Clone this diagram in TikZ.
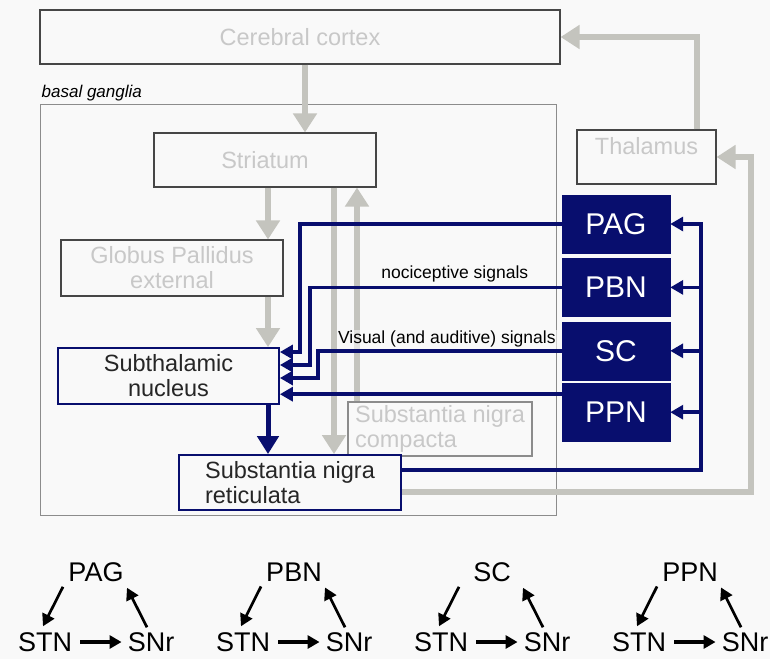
\documentclass[tikz,border=0pt]{standalone}
\usepackage{fontspec}
\setmainfont{Liberation Sans}
\usetikzlibrary{arrows.meta,positioning}

\definecolor{navy}{RGB}{8,14,110}
\definecolor{arrowgray}{RGB}{196,196,190}
\definecolor{textgray}{RGB}{200,200,200}
\definecolor{boxline}{RGB}{70,70,70}
\definecolor{paper}{RGB}{249,249,249}

\tikzset{
	area/.style={draw=boxline, line width=1.1pt, fill=paper, inner sep=0pt, font=\fontsize{23.5}{25}\selectfont},
	greybox/.style={area, text=textgray},
	bluebox/.style={area, draw=navy, line width=1.8pt, text=black!85},
	nucleus/.style={fill=navy, draw=navy, text=white, minimum width=108pt, minimum height=58pt, inner sep=0pt, font=\fontsize{30}{32}\selectfont},
	greyarrow/.style={draw=arrowgray, line width=6pt, -{Triangle[width=23pt,length=19pt]}},
	bluearrow/.style={draw=navy, line width=3.5pt, -{Triangle[width=14pt,length=13pt]}},
	signal/.style={font=\fontsize{17.5}{19}\selectfont, inner sep=1pt},
	loopnode/.style={font=\fontsize{27}{29}\selectfont, inner sep=1pt},
	loopedge/.style={line width=2.7pt, -{Triangle[width=13pt,length=12pt]}}
}

\begin{document}
\begin{tikzpicture}[x=1pt, y=-1pt]

	\fill[paper] (0,0) rectangle (770,659);
	\useasboundingbox (0,0) rectangle (770,659);

	% cortex, thalamus and the basal ganglia frame
	\node[greybox, minimum width=520pt, minimum height=54pt] (cortex) at (300,37) {Cerebral cortex};
	\node[draw=gray!90, line width=1pt, minimum width=516pt, minimum height=411pt] (bg) at (298,309.5) {};
	\node[anchor=south west, inner sep=2pt, font=\fontsize{17}{19}\selectfont\itshape] (bglabel) at (bg.north west) {basal ganglia};
	\node[greybox, minimum width=139pt, minimum height=54pt, text height=17pt, text depth=22pt] (thalamus) at (646.5,157) {Thalamus};

	% nuclei inside the basal ganglia
	\node[greybox, minimum width=222pt, minimum height=54pt] (striatum) at (265,160) {Striatum};
	\node[greybox, align=center, minimum width=222pt, minimum height=56pt] (gpe) at (172,268) {Globus Pallidus\\external};
	\node[bluebox, align=center, minimum width=221pt, minimum height=56pt] (stn) at (168.5,376) {Subthalamic\\nucleus};
	\node[greybox, draw=gray!90, align=left, minimum width=184pt, minimum height=54pt] (snc) at (440,429) {Substantia nigra\\compacta};
	\node[bluebox, align=left, minimum width=222pt, minimum height=55pt] (snr) at (290,482.5) {Substantia nigra\\reticulata};

	% brainstem nuclei
	\node[nucleus] (pag) at (616,224) {PAG};
	\node[nucleus, below=5pt of pag] (pbn) {PBN};
	\node[nucleus, below=5pt of pbn] (sc) {SC};
	\node[nucleus, below=3pt of sc] (ppn) {PPN};

	% grey pathways
	\draw[greyarrow] ([xshift=5pt]cortex.south) -- ([xshift=40pt]striatum.north);
	\draw[greyarrow] ([xshift=3pt]striatum.south) -- ([xshift=96pt]gpe.north);
	\draw[greyarrow] ([xshift=96pt]gpe.south) -- ([xshift=99.5pt]stn.north);
	\draw[greyarrow] ([xshift=69pt]striatum.south) -- ([xshift=44pt]snr.north);
	\draw[greyarrow] ([xshift=-83pt]snc.north) -- ([xshift=92pt]striatum.south);
	\draw[greyarrow] ([xshift=50.5pt]thalamus.north) |- (cortex.east);
	\draw[greyarrow] ([yshift=-9.5pt]snr.east) -- ++(349,0) |- (thalamus.east);

	% blue pathways into the STN
	\draw[bluearrow] (pag.west) -- ++(-262,0) |- ([yshift=24pt]stn.east);
	\draw[bluearrow] (pbn.west) -- ++(-252,0) |- ([yshift=11pt]stn.east);
	\draw[bluearrow] (sc.west) -- ++(-244,0) |- ([yshift=-2pt]stn.east);
	\draw[bluearrow] ([yshift=18pt]ppn.west) -- ([yshift=18pt]ppn.west -| stn.east);
	\draw[navy, line width=5pt, -{Triangle[width=21pt,length=18pt]}] ([xshift=99.5pt]stn.south) -- ([xshift=-22pt]snr.north);

	% SNr back to the brainstem
	\draw[bluearrow] ([yshift=12.5pt]snr.east) -- ++(299,0) coordinate (tap) |- (pag.east);
	\foreach \n in {pbn, sc, ppn}
	{
		\draw[bluearrow] (\n.east -| tap) -- (\n.east);
	}

	\node[signal, anchor=south] (nocilab) at ([xshift=-107pt,yshift=4pt]pbn.west) {nociceptive signals};
	\node[signal, anchor=south east, fill=paper, fill opacity=0.6, text opacity=1] (vislab) at ([xshift=-5pt,yshift=2pt]sc.west) {Visual (and auditive) signals};

	% draw 4 loops
	\foreach \lab [count=\i from 0] in {PAG, PBN, SC, PPN}
	{
		\begin{scope}[shift={(\i * 198, 0)}]
			\node[loopnode] (top\i) at (96,572) {\lab};
			\node[loopnode] (stn\i) at (45,642) {STN};
			\node[loopnode] (snr\i) at (151,642) {SNr};
			\draw[loopedge] ([xshift=-33pt,yshift=-4pt]top\i.south) -- ([xshift=-2pt,yshift=5pt]stn\i.north);
			\draw[loopedge] ([xshift=-4pt,yshift=4pt]snr\i.north) -- ([xshift=31pt,yshift=-5pt]top\i.south);
			\draw[loopedge, line width=3.5pt, shorten <=7pt, shorten >=5pt] (stn\i.east) -- (snr\i.west);
		\end{scope}
	}

\end{tikzpicture}
\end{document}
